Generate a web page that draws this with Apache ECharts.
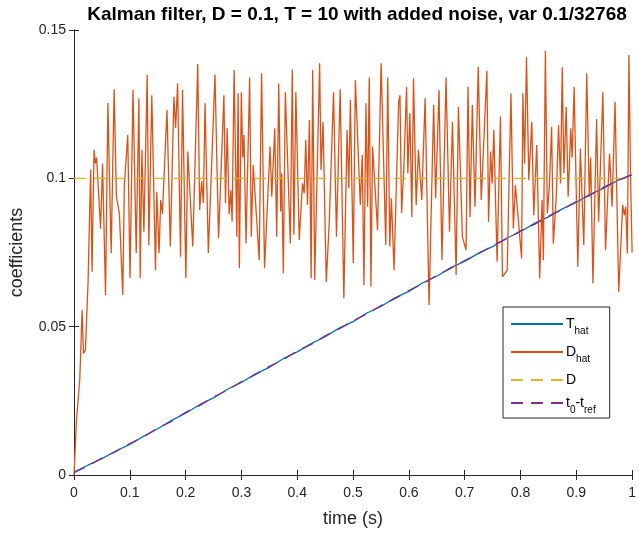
<!DOCTYPE html>
<html>
<head>
<meta charset="utf-8">
<script src="https://cdn.jsdelivr.net/npm/echarts@6/dist/echarts.min.js"></script>
<style>html,body{margin:0;padding:0;background:#fff}#c{width:639px;height:535px}</style>
</head>
<body>
<div id="c"></div>
<script>
const titleText = 'Kalman filter, D = 0.1, T = 10 with added noise, var 0.1/32768';
const xTicks = [0, 0.1, 0.2, 0.3, 0.4, 0.5, 0.6, 0.7, 0.8, 0.9, 1];
const yTicks = [0, 0.05, 0.1, 0.15];

const dhatTime = [0.000,0.0044,0.0103,0.0146,0.0169,0.0204,0.0252,0.0298,0.0323,0.0359,0.0382,0.0405,0.0476,0.0512,0.0565,0.0607,0.0666,0.0719,0.0760,0.0814,0.0874,0.0902,0.0963,0.1004,0.1057,0.1115,0.1163,0.1186,0.1217,0.1252,0.1311,0.1341,0.1394,0.1460,0.1483,0.1524,0.1554,0.1584,0.1666,0.1726,0.1790,0.1821,0.1856,0.1909,0.1945,0.2004,0.2039,0.2128,0.2217,0.2252,0.2288,0.2318,0.2348,0.2407,0.2526,0.2590,0.2686,0.2714,0.2744,0.2780,0.2810,0.2833,0.2869,0.2917,0.2940,0.2963,0.2998,0.3023,0.3046,0.3082,0.3147,0.3176,0.3211,0.3318,0.3361,0.3414,0.3513,0.3544,0.3597,0.3632,0.3668,0.3703,0.3721,0.3751,0.3787,0.3876,0.3911,0.3940,0.3975,0.4036,0.4094,0.4124,0.4153,0.4183,0.4218,0.4249,0.4277,0.4313,0.4401,0.4426,0.4462,0.4520,0.4574,0.4650,0.4703,0.4769,0.4835,0.4893,0.4924,0.4952,0.5004,0.5041,0.5130,0.5165,0.5195,0.5231,0.5261,0.5290,0.5320,0.5350,0.5439,0.5503,0.5586,0.5622,0.5657,0.5687,0.5734,0.5817,0.5840,0.5870,0.5911,0.5959,0.5982,0.6018,0.6053,0.6083,0.6131,0.6172,0.6231,0.6291,0.6362,0.6444,0.6479,0.6540,0.6593,0.6666,0.6728,0.6781,0.6847,0.6888,0.6959,0.7025,0.7060,0.7096,0.7137,0.7185,0.7243,0.7297,0.7398,0.7428,0.7464,0.7492,0.7522,0.7581,0.7641,0.7677,0.7762,0.7829,0.7872,0.7908,0.8020,0.8043,0.8073,0.8108,0.8149,0.8202,0.8238,0.8291,0.8344,0.8387,0.8410,0.8446,0.8481,0.8517,0.8558,0.8588,0.8641,0.8682,0.8718,0.8748,0.8778,0.8819,0.8854,0.8902,0.8925,0.8961,0.9027,0.9073,0.9134,0.9187,0.9233,0.9258,0.9298,0.9364,0.9400,0.9476,0.9524,0.9595,0.9641,0.9694,0.9760,0.9831,0.9861,0.9885,0.9915,0.9943,0.9973,1.0000];
const dhatVal = [0.000,0.0185,0.032,0.0556,0.041,0.042,0.065,0.103,0.0685,0.1096,0.105,0.107,0.083,0.105,0.0607,0.1254,0.0748,0.130,0.0938,0.088,0.0607,0.0977,0.1146,0.0664,0.1298,0.0748,0.127,0.0664,0.1096,0.082,0.1348,0.0775,0.128,0.069,0.0955,0.0748,0.0927,0.088,0.123,0.077,0.1275,0.117,0.132,0.0736,0.1298,0.0664,0.109,0.077,0.1385,0.0893,0.099,0.0917,0.1253,0.0748,0.135,0.0799,0.128,0.0917,0.117,0.088,0.096,0.0854,0.1365,0.0803,0.1287,0.0697,0.129,0.107,0.1146,0.078,0.134,0.0803,0.1045,0.0725,0.1354,0.0697,0.1107,0.0938,0.1169,0.0803,0.132,0.0888,0.1017,0.068,0.129,0.078,0.1367,0.081,0.129,0.0792,0.0983,0.095,0.113,0.091,0.1197,0.0663,0.1365,0.0657,0.1388,0.1028,0.119,0.065,0.0854,0.129,0.0803,0.130,0.0596,0.1163,0.0967,0.1264,0.0715,0.1331,0.091,0.1079,0.064,0.1253,0.0904,0.134,0.0635,0.1107,0.0826,0.1388,0.0775,0.134,0.077,0.0933,0.069,0.1258,0.128,0.0882,0.1039,0.1309,0.1017,0.1219,0.087,0.1337,0.091,0.1096,0.0927,0.127,0.0573,0.1247,0.0933,0.1298,0.0725,0.134,0.082,0.119,0.0674,0.124,0.0803,0.0758,0.1309,0.087,0.1247,0.0904,0.1376,0.0927,0.1363,0.0854,0.109,0.0983,0.1163,0.0719,0.1208,0.0668,0.069,0.1287,0.0831,0.0977,0.073,0.1287,0.105,0.1408,0.0994,0.119,0.0876,0.1112,0.0663,0.0927,0.0725,0.143,0.0882,0.0972,0.1174,0.078,0.0938,0.118,0.0983,0.1374,0.1017,0.124,0.0938,0.1169,0.107,0.1309,0.0702,0.110,0.0775,0.1354,0.0938,0.107,0.0646,0.120,0.0854,0.129,0.0758,0.1084,0.0904,0.1258,0.0618,0.091,0.0876,0.0904,0.0747,0.1416,0.0994,0.075];

const thatTime = [0,0.025,0.05,0.075,0.1,0.125,0.15,0.175,0.2,0.225,0.25,0.275,0.3,0.325,0.35,0.375,0.4,0.425,0.45,0.475,0.5,0.525,0.55,0.575,0.6,0.625,0.65,0.675,0.7,0.725,0.75,0.775,0.8,0.825,0.85,0.875,0.9,0.925,0.95,0.975,1];
const thatVal = [0.0010,0.0033,0.0055,0.0081,0.0103,0.0131,0.0156,0.0184,0.0208,0.0237,0.0260,0.0289,0.0312,0.0341,0.0363,0.0392,0.0415,0.0443,0.0466,0.0495,0.0517,0.0546,0.0568,0.0597,0.0619,0.0648,0.0670,0.0699,0.0720,0.0748,0.0770,0.0798,0.0820,0.0848,0.0870,0.0897,0.0919,0.0946,0.0968,0.0994,0.1012];
const trefVal = [0.0008,0.0031,0.0057,0.0079,0.0106,0.0129,0.0158,0.0181,0.0211,0.0234,0.0263,0.0286,0.0315,0.0338,0.0366,0.0389,0.0418,0.0440,0.0469,0.0492,0.0520,0.0543,0.0571,0.0594,0.0622,0.0645,0.0673,0.0696,0.0723,0.0746,0.0773,0.0796,0.0823,0.0845,0.0872,0.0895,0.0922,0.0944,0.0971,0.0992,0.1014];
const dConst = 0.1;

const FONT = '"Liberation Sans", Arial, Helvetica, sans-serif';
const AX = '#262626';

const zip = (a, b) => a.map((t, i) => [t, b[i]]);

const chart = echarts.init(document.getElementById('c'), null, {renderer: 'canvas'});
const baseX = {type: 'value', min: xTicks[0], max: xTicks[xTicks.length - 1], interval: 0.1,
  axisLine: {show: true, lineStyle: {color: AX, width: 1}},
  axisTick: {show: true, inside: true, length: 5, lineStyle: {color: AX}},
  splitLine: {show: false}};
const baseY = {type: 'value', min: yTicks[0], max: yTicks[yTicks.length - 1], interval: 0.05,
  axisLine: {show: true, lineStyle: {color: AX, width: 1}},
  axisTick: {show: true, inside: true, length: 5, lineStyle: {color: AX}},
  splitLine: {show: false}};

const rich = {
  m: {fontFamily: FONT, fontSize: 14, color: '#000', lineHeight: 22, verticalAlign: 'middle'},
  s: {fontFamily: FONT, fontSize: 10, color: '#000', lineHeight: 22, verticalAlign: 'bottom', padding: [0, 0, -1, 0]}
};
const legendNames = {
  'T_hat': '{m|T}{s|hat}',
  'D_hat': '{m|D}{s|hat}',
  'D': '{m|D}',
  't0-tref': '{m|t}{s|0}{m|-t}{s|ref}'
};

chart.setOption({
  animation: false,
  title: {text: titleText, left: 352, textAlign: 'center', top: 0,
    textStyle: {fontFamily: FONT, fontSize: 19, fontWeight: 'bold', color: '#000'}},
  grid: {left: 72, right: 3, top: 30, bottom: 60, show: false},
  xAxis: [
    Object.assign({}, baseX, {position: 'bottom', name: 'time (s)', nameLocation: 'middle', nameGap: 35,
      nameTextStyle: {fontFamily: FONT, fontSize: 18, color: AX},
      axisLabel: {fontFamily: FONT, fontSize: 14, color: AX, margin: 11}}),
    Object.assign({}, baseX, {position: 'top', axisLabel: {show: false}})
  ],
  yAxis: [
    Object.assign({}, baseY, {position: 'left', name: 'coefficients', nameLocation: 'middle', nameGap: 48,
      nameTextStyle: {fontFamily: FONT, fontSize: 18, color: AX},
      axisLabel: {fontFamily: FONT, fontSize: 14, color: AX, margin: 8}}),
    Object.assign({}, baseY, {position: 'right', axisLabel: {show: false}})
  ],
  legend: {
    orient: 'vertical', left: 503, top: 307,
    padding: [10, 14, 3, 7], itemGap: 9, itemWidth: 52, itemHeight: 14,
    backgroundColor: '#fff', borderColor: AX, borderWidth: 1,
    itemStyle: {opacity: 0},
    data: ['T_hat', 'D_hat', 'D', 't0-tref'],
    formatter: n => legendNames[n],
    textStyle: {rich: rich, padding: [0, 0, 0, -2]}
  },
  series: [
    {name: 'T_hat', type: 'line', data: zip(thatTime, thatVal), showSymbol: false, symbol: 'none',
      lineStyle: {color: '#0072BD', width: 1.3}, itemStyle: {color: '#0072BD'}, z: 2},
    {name: 'D_hat', type: 'line', data: zip(dhatTime, dhatVal), showSymbol: false, symbol: 'none',
      lineStyle: {color: '#D95319', width: 1.3}, itemStyle: {color: '#D95319'}, z: 3},
    {name: 'D', type: 'line', data: [[xTicks[0], dConst], [xTicks[xTicks.length - 1], dConst]], showSymbol: false, symbol: 'none',
      lineStyle: {color: '#EDB120', width: 1.3, type: [12, 8]}, itemStyle: {color: '#EDB120'}, z: 4},
    {name: 't0-tref', type: 'line', data: zip(thatTime, trefVal), showSymbol: false, symbol: 'none',
      lineStyle: {color: '#7E2F8E', width: 1.3, type: [12, 8]}, itemStyle: {color: '#7E2F8E'}, z: 5}
  ]
});
</script>
</body>
</html>
